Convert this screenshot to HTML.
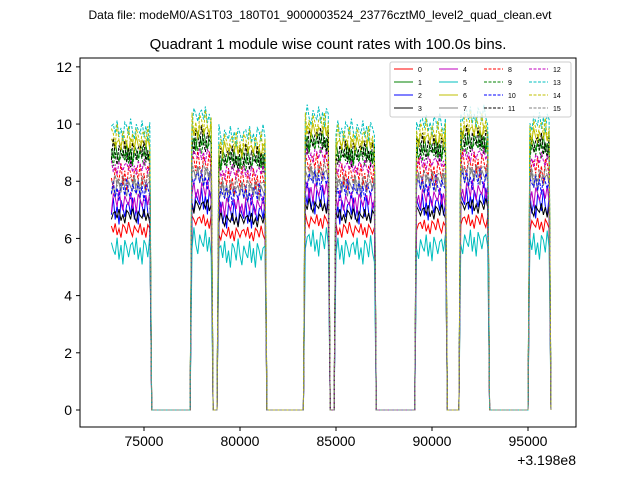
<!DOCTYPE html>
<html><head><meta charset="utf-8"><style>
body{margin:0;background:#fff;}
svg text{font-family:"Liberation Sans","DejaVu Sans",sans-serif;}
</style></head><body>
<svg id="chart" width="640" height="480">
<text x="320" y="19" text-anchor="middle" font-size="12">Data file: modeM0/AS1T03_180T01_9000003524_23776cztM0_level2_quad_clean.evt</text>
<text x="328" y="49" text-anchor="middle" font-size="15">Quadrant 1 module wise count rates with 100.0s bins.</text>
<g id="plot"></g>
<rect x="80" y="58" width="496" height="369" fill="none" stroke="#000" stroke-width="1"/>
<g id="axes"></g>
<g id="legend"></g>
<text x="576" y="465" text-anchor="end" font-size="14">+3.198e8</text>
</svg>
<script>
const xTicks=[75000,80000,85000,90000,95000];
const yTicks=[0,2,4,6,8,10,12];
const seriesNames=["0","1","2","3","4","5","6","7","8","9","10","11","12","13","14","15"];
const seriesColors=["#ff0000","#008000","#0000ff","#000000","#bf00bf","#00bfbf","#bfbf00","#808080","#ff0000","#008000","#0000ff","#000000","#bf00bf","#00bfbf","#bfbf00","#808080"];
const seriesLevels=[6.3,9.0,7.0,6.8,7.3,5.6,9.3,7.8,8.2,8.8,7.7,9.0,8.5,9.8,9.5,8.0];
const segStarts=[73300,77500,78900,83400,85000,89200,91500,95100];
const segEnds=[75300,78500,81300,84600,87000,90700,92900,96100];
const segFactors=[1.0,1.05,0.98,1.05,1.0,1.02,1.05,1.03];
const wiggle=[0.3,-0.2,0.5,-0.4,0.1,-0.6,0.4,0.2,-0.3,0.6,-0.1,-0.5,0.3,0.0,-0.2,0.5,-0.4,0.2,-0.6,0.4,0.1,-0.3,0.2];
const tStart=73300,tEnd=96200;

const X0=80,X1=576,Y0=58,Y1=427,XMIN=71667,XMAX=97500,YMIN=-0.595,YMAX=12.31;
const xs=v=>X0+(v-XMIN)/(XMAX-XMIN)*(X1-X0);
const ys=v=>Y1-(v-YMIN)/(YMAX-YMIN)*(Y1-Y0);
const NS="http://www.w3.org/2000/svg";
const plot=document.getElementById('plot'),axes=document.getElementById('axes'),leg=document.getElementById('legend');

function val(s,t,i){
  for(let k=0;k<segStarts.length;k++){
    if(t>=segStarts[k]&&t<=segEnds[k]){
      const w=wiggle[(i+s*7)%wiggle.length]*(0.45+s%3*0.2);
      return seriesLevels[s]*segFactors[k]+w;
    }
  }
  return 0;
}
for(let s=0;s<seriesNames.length;s++){
  let d="";
  for(let t=tStart,i=0;t<=tEnd;t+=100,i++){
    d+=(i?"L":"M")+xs(t).toFixed(1)+","+ys(val(s,t,i)).toFixed(1);
  }
  const p=document.createElementNS(NS,'path');
  p.setAttribute('d',d);p.setAttribute('fill','none');
  p.setAttribute('stroke',seriesColors[s]);p.setAttribute('stroke-width','1');
  if(s>=8)p.setAttribute('stroke-dasharray','3,1.5');
  
  
  plot.appendChild(p);
}
xTicks.forEach(v=>{
  const l=document.createElementNS(NS,'line');
  l.setAttribute('x1',xs(v));l.setAttribute('x2',xs(v));l.setAttribute('y1',427);l.setAttribute('y2',431);l.setAttribute('stroke','#000');
  
  
  axes.appendChild(l);
  const t=document.createElementNS(NS,'text');
  t.setAttribute('x',xs(v));t.setAttribute('y',446);t.setAttribute('text-anchor','middle');t.setAttribute('font-size','14');
  t.textContent=v;
  
  
  axes.appendChild(t);
});
yTicks.forEach(v=>{
  const l=document.createElementNS(NS,'line');
  l.setAttribute('x1',76);l.setAttribute('x2',80);l.setAttribute('y1',ys(v));l.setAttribute('y2',ys(v));l.setAttribute('stroke','#000');
  
  
  axes.appendChild(l);
  const t=document.createElementNS(NS,'text');
  t.setAttribute('x',72);t.setAttribute('y',ys(v)+5);t.setAttribute('text-anchor','end');t.setAttribute('font-size','14');
  t.textContent=v;
  
  
  axes.appendChild(t);
});
const box=document.createElementNS(NS,'rect');
box.setAttribute('x',390);box.setAttribute('y',62);box.setAttribute('width',181);box.setAttribute('height',55);box.setAttribute('rx',2);
box.setAttribute('fill','#fff');box.setAttribute('fill-opacity','0.8');box.setAttribute('stroke','#ccc');


leg.appendChild(box);
seriesNames.forEach((n,s)=>{
  const col=Math.floor(s/4),row=s%4;
  const x=394+col*45,y=69+row*13;
  const l=document.createElementNS(NS,'line');
  l.setAttribute('x1',x);l.setAttribute('x2',x+19);l.setAttribute('y1',y);l.setAttribute('y2',y);
  l.setAttribute('stroke',seriesColors[s]);
  if(s>=8)l.setAttribute('stroke-dasharray','3,1.5');
  
  
  leg.appendChild(l);
  const t=document.createElementNS(NS,'text');
  t.setAttribute('x',x+24);t.setAttribute('y',y+3);t.setAttribute('font-size','7');
  t.textContent=n;
  
  
  leg.appendChild(t);
});
</script>
</body></html>
